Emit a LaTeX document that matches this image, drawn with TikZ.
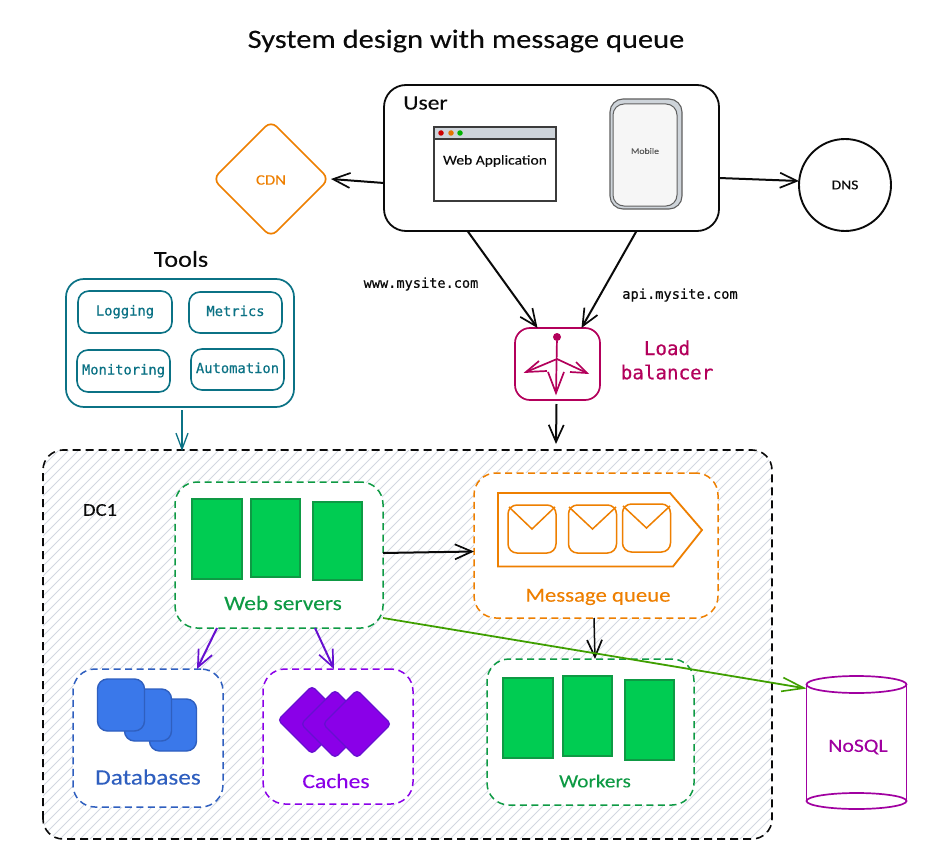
\documentclass[tikz,border=0pt]{standalone}
\usepackage{fontspec}
\setmainfont[FakeStretch=1.15,FakeBold=0.1]{Carlito}
\newfontfamily\monofam[FakeBold=0.5]{DejaVu Sans Mono}
\usetikzlibrary{arrows.meta,shapes.geometric}
\definecolor{cblack}{HTML}{0A0A0A}
\definecolor{corange}{HTML}{EE7F00}
\definecolor{cteal}{HTML}{0B7285}
\definecolor{cgreen}{HTML}{0E9A44}
\definecolor{cfill}{HTML}{00CC52}
\definecolor{cblue}{HTML}{2F5FBF}
\definecolor{cbluef}{HTML}{3A78EA}
\definecolor{cviolet}{HTML}{8A00E8}
\definecolor{carrowv}{HTML}{6610D0}
\definecolor{cmag}{HTML}{B3005B}
\definecolor{cpurple}{HTML}{A000A0}
\definecolor{cgrey}{HTML}{CED4DA}
\definecolor{chatch}{HTML}{D2D7E0}
\definecolor{cnosql}{HTML}{3F9F00}
\tikzset{
  x=1pt,y=-1pt,
  every node/.style={inner sep=0pt,outer sep=0pt},
  boxa/.style={draw=#1,line width=1.8pt,rounded corners=22pt,fill=white},
  dashbox/.style={boxa=#1,line width=1.5pt,dash pattern=on 7pt off 4.5pt},
  toolbox/.style={draw=cteal,line width=1.6pt,rounded corners=11pt,fill=white,font=\monofam\fontsize{13.8}{15}\selectfont,text=cteal,text height=10pt,text depth=3pt},
  greenrect/.style={draw=cgreen,line width=1.2pt,fill=cfill},
  dbsq/.style={draw=cblue,line width=1.4pt,fill=cbluef,rounded corners=10pt,minimum width=47pt,minimum height=52pt},
  cachedm/.style={diamond,draw=carrowv,line width=1.3pt,fill=cviolet,rounded corners=4pt,minimum width=68pt,minimum height=68pt},
  env/.style={draw=corange,line width=1.5pt,rounded corners=9pt,minimum width=48pt,minimum height=48pt},
  hand/.style={font=\fontsize{#1}{#1}\selectfont},
  mono/.style={font=\monofam\fontsize{#1}{#1}\selectfont},
  conn/.style={line width=2pt,-{Straight Barb[length=17pt,width=15pt,line width=1.7pt]}},
}
\begin{document}
\begin{tikzpicture}
\useasboundingbox (0,0) rectangle (940,864);
% title
\node[hand=26.5,text=cblack] (title) at (466,41) {System design with message queue};
% data centre with hatching
\node[minimum width=729pt,minimum height=389pt] (dc1) at (407.5,644.5) {};
\begin{scope}
  \clip[rounded corners=20pt] (dc1.south west) rectangle (dc1.north east);
  \foreach \k in {-340,-330,...,780}{
    \draw[chatch,line width=1pt] (\k,839) -- ++(389,-389);
  }
\end{scope}
\draw[cblack,line width=1.6pt,dash pattern=on 8pt off 5pt,rounded corners=20pt] (dc1.south west) rectangle (dc1.north east);
\node[hand=18,text=cblack] (dclabel) at (100,510) {DC1};
% user
\node[boxa=cblack,minimum width=335pt,minimum height=146pt] (user) at (551.5,158) {};
\node[hand=20.5,text=cblack] (userlabel) at (425.5,103) {User};
\node[draw=cblack!80,line width=1.3pt,fill=white,minimum width=122pt,minimum height=74pt] (browser) at (495,164) {};
\node[draw=cblack!80,line width=1.3pt,fill=cgrey,minimum width=122pt,minimum height=12pt] (bar) at (495,133) {};
\node[circle,fill=red!80!black,minimum size=5.5pt] (dotr) at (441,133) {};
\node[circle,fill=orange!90!black,minimum size=5.5pt] (doto) at (451,133) {};
\node[circle,fill=green!70!black,minimum size=5.5pt] (dotg) at (460,133) {};
\node[hand=13.5,text=cblack] (webapp) at (495,161) {Web Application};
\node[draw=cblack!65,line width=1.1pt,fill=cgrey,rounded corners=13pt,minimum width=72pt,minimum height=110pt] (phone) at (646,154) {};
\node[draw=cblack!65,line width=1pt,fill=gray!7,rounded corners=11pt,minimum width=64pt,minimum height=102pt] (screen) at (645,155) {};
\node[hand=8.5,text=black!65] (mobile) at (645,151) {Mobile};
% CDN, DNS
\node[diamond,draw=corange,line width=1.7pt,fill=white,rounded corners=8pt,minimum width=116pt,minimum height=116pt] (cdn) at (271,179) {};
\node[hand=14.5,text=corange] (cdnlabel) at (271,180) {CDN};
\node[circle,draw=cblack,line width=1.9pt,fill=white,minimum size=92pt] (dns) at (845,185) {};
\node[hand=13.5,text=cblack] (dnslabel) at (845,185) {DNS};
% URL labels
\node[mono=13.6,text=cblack] (www) at (421,284) {www.mysite.com};
\node[mono=13.7,text=cblack] (api) at (680,295) {api.mysite.com};
% tools
\node[hand=22.8,text=cblack] (toolstitle) at (181,259) {Tools};
\node[draw=cteal,line width=1.7pt,rounded corners=18pt,fill=white,minimum width=228pt,minimum height=128pt] (tools) at (180,343) {};
\node[toolbox,minimum width=94pt,minimum height=42pt] (logging) at (125,312) {Logging};
\node[toolbox,minimum width=93pt,minimum height=41pt] (metrics) at (235.5,312.5) {Metrics};
\node[toolbox,minimum width=93pt,minimum height=42pt] (monitoring) at (123.5,371) {Monitoring};
\node[toolbox,minimum width=93pt,minimum height=41pt] (automation) at (237.5,369.5) {Automation};
% load balancer
\node[draw=cmag,line width=1.7pt,rounded corners=15pt,fill=white,minimum width=85pt,minimum height=72pt] (lb) at (557.5,364) {};
\node[mono=19.2,text=cmag,align=center] (lblabel) at (667,360) {Load\\[5pt]balancer};
\node[circle,fill=cmag,minimum size=8pt] (lbdot) at (557,337) {};
\coordinate (lbhub) at (557,359);
\coordinate (lbdown) at (556,393);
\coordinate (lbleft) at (526,372);
\coordinate (lbright) at (587,373);
\draw[cmag,line width=1.7pt] (lbdot) -- (lbdown);
\draw[cmag,line width=1.7pt] (lbleft) -- (lbhub) -- (lbright);
\draw[cmag,line width=1.7pt] (548,372) -- (lbdown) -- (564,372);
\draw[cmag,line width=1.7pt] (539,361) -- (lbleft) -- (547,371);
\draw[cmag,line width=1.7pt] (576,362) -- (lbright) -- (570,372);
% web servers
\node[dashbox=cgreen,minimum width=208pt,minimum height=146pt] (web) at (279,555) {};
\node[greenrect,minimum width=50pt,minimum height=80pt] (w1) at (217,539) {};
\node[greenrect,minimum width=49pt,minimum height=78pt] (w2) at (275.5,538) {};
\node[greenrect,minimum width=49pt,minimum height=78pt] (w3) at (337.5,541) {};
\node[hand=20.4,text=cgreen] (weblabel) at (283,603) {Web servers};
% message queue
\node[dashbox=corange,minimum width=244pt,minimum height=145pt] (queue) at (596,545.5) {};
\draw[corange,line width=1.8pt] (498,493) -- (670,493) -- (702,530) -- (673,566.5) -- (498,566.5) -- cycle;
\node[env] (e1) at (532,529) {};
\node[env] (e2) at (592.5,529) {};
\node[env] (e3) at (646.5,528) {};
\draw[corange,line width=1.5pt] (509,507) -- (e1.center) -- (555,507);
\draw[corange,line width=1.5pt] (569,507) -- (e2.center) -- (616,507);
\draw[corange,line width=1.5pt] (623,506) -- (e3.center) -- (670,506);
\node[hand=19.8,text=corange] (queuelabel) at (598,597) {Message queue};
% workers
\node[dashbox=cgreen,minimum width=207pt,minimum height=146pt] (workers) at (590.5,732) {};
\node[greenrect,minimum width=50pt,minimum height=80pt] (k1) at (528,718) {};
\node[greenrect,minimum width=49pt,minimum height=80pt] (k2) at (587.5,716) {};
\node[greenrect,minimum width=49pt,minimum height=80pt] (k3) at (649.5,720) {};
\node[hand=18.5,text=cgreen] (workerslabel) at (595,781) {Workers};
% databases
\node[dashbox=cblue,minimum width=150pt,minimum height=138pt] (db) at (148,738) {};
\node[dbsq] (d3) at (173,725) {};
\node[dbsq] (d2) at (148,715) {};
\node[dbsq] (d1) at (121,705) {};
\node[hand=22,text=cblue] (dblabel) at (148,777) {Databases};
% caches
\node[dashbox=cviolet,minimum width=150pt,minimum height=135pt] (caches) at (338,736.5) {};
\node[cachedm] (c1) at (312,720) {};
\node[cachedm] (c2) at (335,724) {};
\node[cachedm] (c3) at (357,724) {};
\node[hand=20.5,text=cviolet] (cacheslabel) at (336,781) {Caches};
% NoSQL
\node[minimum width=100pt,minimum height=133pt] (nosql) at (856.5,742.5) {};
\fill[white] (806.5,684.5) rectangle (906.5,801);
\draw[cpurple,line width=1.7pt] (806.5,684.5) -- (806.5,801) (906.5,684.5) -- (906.5,801);
\draw[cpurple,line width=1.7pt,fill=white] (856.5,801) ellipse[x radius=50pt,y radius=8pt];
\draw[cpurple,line width=1.7pt,fill=white] (856.5,684.5) ellipse[x radius=50pt,y radius=8.5pt];
\node[hand=18.9,text=cpurple] (nosqllabel) at (858,747) {NoSQL};
% connectors
\draw[conn,cblack] ([yshift=-25pt]user.west) -- ([xshift=2pt]cdn.east);
\draw[conn,cblack] ([yshift=-20pt]user.east) -- ([yshift=4pt]dns.west);
\draw[conn,cblack] ([xshift=-84pt]user.south) -- ([xshift=-20pt]lb.north);
\draw[conn,cblack] ([xshift=85pt]user.south) -- ([xshift=24pt]lb.north);
\draw[conn,cblack] ([xshift=-1pt,yshift=-4pt]lb.south) -- ([xshift=148.5pt,yshift=6pt]dc1.north);
\draw[cteal,line width=1.5pt,-{Straight Barb[length=16pt,width=12pt,line width=1.3pt]}] ([xshift=2pt,yshift=-3pt]tools.south) -- ([xshift=-225.5pt,yshift=-1pt]dc1.north);
\draw[conn,cblack] ([yshift=2pt]web.east) -- ([yshift=-6pt]queue.west);
\draw[conn,carrowv] ([xshift=-62pt]web.south) -- ([xshift=49pt]db.north);
\draw[conn,carrowv] ([xshift=36pt]web.south) -- ([xshift=-4pt]caches.north);
\draw[conn,cblack,line width=1.5pt] ([xshift=-2pt]queue.south) -- ([xshift=4.5pt]workers.north);
\draw[cnosql,line width=1.8pt,-{Straight Barb[length=22pt,width=14pt,line width=1.6pt]}] ([yshift=-63pt]web.east) -- ([xshift=-50pt,yshift=54pt]nosql.center);
\end{tikzpicture}
\end{document}
